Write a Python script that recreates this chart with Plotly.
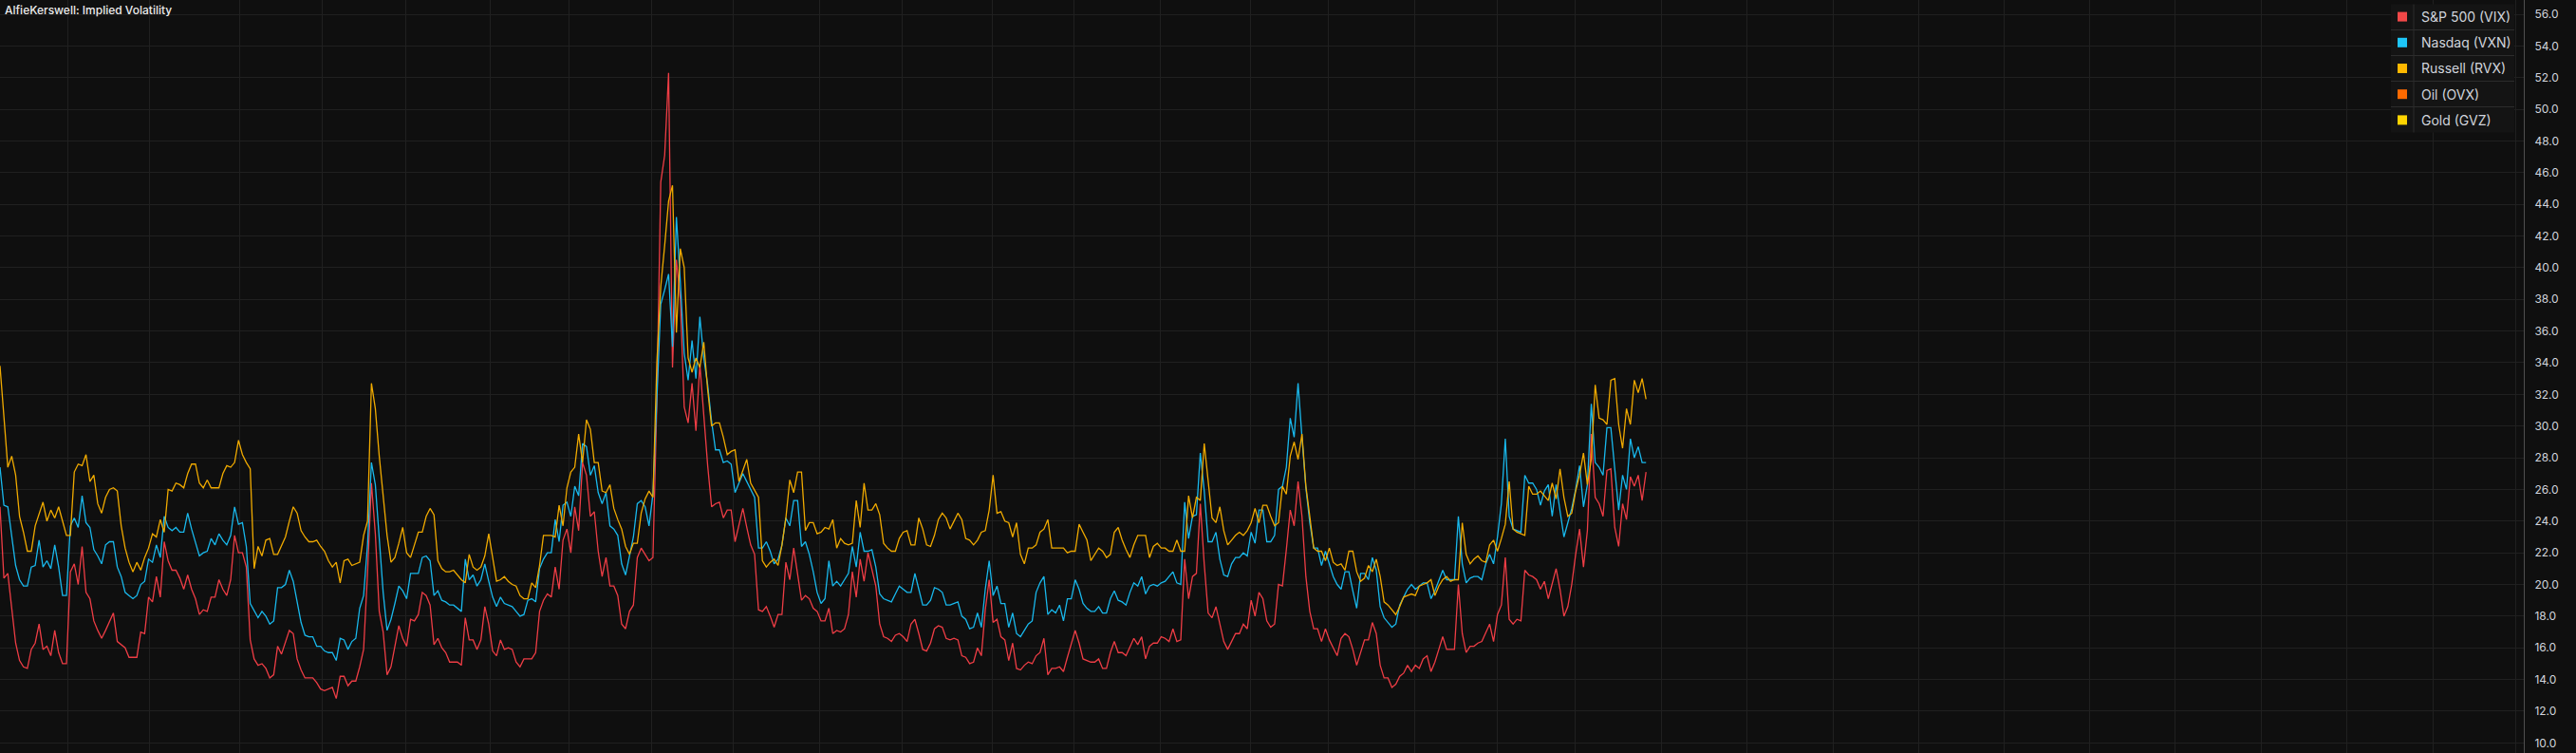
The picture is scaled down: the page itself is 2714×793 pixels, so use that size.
import plotly.graph_objects as go

# ---------------- data (daily closes) ----------------
vix = [
    24.9, 20.4, 20.7, 18.4, 16.3, 15.2, 14.8, 14.7, 15.9, 16.3,
    17.5, 15.9, 16.1, 15.5, 17.1, 15.7, 15.0, 15.0, 20.8, 21.3,
    20.0, 22.4, 19.5, 19.1, 17.7, 17.1, 16.6, 17.1, 17.7, 18.2,
    16.4, 16.2, 16.0, 15.4, 15.4, 15.4, 17.0, 16.9, 19.2, 18.9,
    20.5, 19.2, 22.7, 21.5, 20.9, 20.9, 20.4, 19.7, 20.6, 19.7,
    19.1, 18.1, 18.4, 18.3, 19.2, 19.2, 20.3, 19.7, 19.3, 20.3,
    23.1, 22.0, 22.0, 21.1, 16.5, 15.3, 14.9, 15.0, 14.7, 14.1,
    14.3, 16.1, 15.6, 16.4, 17.1, 16.9, 15.3, 14.6, 14.1, 14.1,
    14.1, 13.8, 13.4, 13.3, 13.4, 13.5, 12.8, 14.2, 14.2, 13.6,
    13.9, 13.9, 14.8, 15.9, 20.7, 26.4, 23.2, 18.3, 17.0, 14.3,
    14.8, 16.1, 17.4, 16.6, 16.1, 17.8, 17.7, 18.1, 19.5, 19.3,
    18.7, 16.2, 16.6, 16.0, 15.7, 15.1, 15.1, 15.1, 14.9, 17.9,
    16.5, 16.5, 15.9, 16.5, 18.6, 17.5, 15.8, 15.5, 16.5, 15.9,
    16.0, 15.9, 15.1, 14.8, 15.3, 15.3, 15.3, 15.7, 18.3, 19.0,
    19.4, 19.2, 21.1, 19.7, 22.8, 23.5, 22.0, 24.9, 23.4, 27.7,
    26.9, 24.3, 24.6, 22.1, 20.5, 21.7, 19.9, 19.9, 19.3, 17.5,
    17.2, 18.3, 18.7, 21.7, 22.3, 21.9, 21.5, 21.7, 31.5, 45.4,
    47.1, 52.3, 33.7, 40.5, 38.0, 31.2, 30.2, 32.7, 29.7, 33.9,
    30.6, 27.5, 24.9, 25.1, 25.2, 24.2, 24.7, 24.7, 22.7, 23.7,
    24.8, 23.6, 22.5, 21.9, 18.4, 18.3, 18.6, 18.0, 17.3, 18.1,
    18.1, 21.4, 20.3, 22.3, 20.7, 19.0, 19.3, 19.1, 18.5, 18.3,
    17.7, 17.7, 18.5, 16.9, 17.1, 17.0, 17.2, 18.1, 20.8, 19.2,
    21.6, 20.2, 22.0, 20.9, 19.9, 17.5, 16.7, 16.6, 16.4, 16.8,
    16.9, 16.7, 16.4, 17.5, 17.8, 16.9, 15.9, 15.8, 16.3, 17.2,
    17.4, 17.3, 16.6, 16.5, 16.6, 16.5, 15.5, 15.4, 15.0, 15.1,
    16.0, 15.5, 18.4, 20.3, 17.6, 17.8, 16.7, 16.5, 15.2, 16.3,
    14.7, 14.6, 14.9, 15.1, 15.0, 15.5, 15.7, 16.6, 14.3, 14.7,
    14.7, 14.8, 14.5, 15.4, 16.3, 17.1, 16.3, 15.3, 15.2, 15.1,
    15.1, 15.3, 14.7, 14.7, 15.7, 16.4, 15.7, 15.7, 15.5, 16.1,
    16.6, 16.2, 16.7, 15.3, 16.1, 16.3, 16.3, 16.7, 16.6, 16.4,
    17.2, 16.4, 16.5, 21.6, 19.1, 20.5, 20.7, 25.1, 21.3, 18.2,
    17.9, 18.6, 17.5, 16.4, 15.9, 16.4, 16.9, 16.9, 17.5, 17.2,
    19.0, 18.0, 19.5, 19.1, 17.7, 17.3, 17.5, 20.0, 19.9, 22.2,
    24.7, 23.7, 26.5, 24.3, 20.5, 18.3, 17.2, 17.2, 16.4, 17.2,
    16.5, 16.0, 15.5, 16.6, 16.9, 16.7, 15.9, 14.9, 15.7, 16.5,
    16.5, 17.6, 16.9, 14.9, 14.1, 14.1, 13.5, 13.7, 14.2, 14.4,
    14.9, 14.5, 14.9, 14.7, 15.3, 15.5, 14.5, 15.1, 15.9, 16.7,
    15.9, 15.9, 15.9, 20.0, 16.9, 15.7, 16.1, 16.1, 16.3, 16.4,
    16.9, 17.5, 16.4, 18.1, 18.7, 21.7, 17.8, 17.5, 17.8, 17.7,
    20.9, 20.6, 20.5, 20.3, 19.7, 20.2, 19.1, 20.1, 21.0, 19.7,
    18.0, 18.6, 20.0, 21.9, 23.5, 21.1, 23.4, 29.5, 25.5, 25.1,
    24.3, 27.2, 27.3, 23.6, 22.4, 25.1, 24.1, 26.8, 26.2, 26.9,
    25.3, 27.1,
]

vxn = [
    27.4, 25.0, 24.9, 23.2, 21.2, 20.3, 19.9, 19.9, 21.1, 21.2,
    22.8, 21.1, 21.5, 21.0, 22.5, 21.1, 19.3, 19.3, 23.7, 24.2,
    23.6, 25.6, 23.9, 23.6, 22.2, 21.8, 21.3, 22.5, 22.7, 22.7,
    21.1, 20.5, 19.5, 19.3, 19.1, 19.3, 20.0, 20.2, 21.6, 21.4,
    22.5, 21.7, 24.3, 23.6, 23.4, 23.6, 23.3, 23.3, 24.5, 23.5,
    22.7, 21.8, 22.0, 22.1, 22.9, 22.5, 23.2, 22.8, 22.5, 23.1,
    24.9, 23.8, 23.9, 22.4, 18.8, 18.3, 17.9, 18.3, 18.0, 17.5,
    17.7, 19.8, 19.8, 20.0, 20.9, 20.2, 18.8, 17.6, 16.8, 16.7,
    16.7, 16.1, 16.1, 15.8, 15.7, 15.7, 15.2, 16.6, 16.5, 15.9,
    16.4, 16.6, 18.5, 19.3, 22.5, 27.7, 26.3, 23.0, 19.5, 17.1,
    17.8, 18.8, 19.9, 19.6, 19.1, 20.7, 20.7, 20.7, 21.7, 21.8,
    21.5, 19.3, 19.6, 19.0, 18.9, 18.7, 18.7, 18.5, 18.3, 21.6,
    20.3, 20.6, 19.9, 20.3, 21.3, 20.2, 19.2, 18.6, 19.2, 18.8,
    18.7, 18.6, 18.3, 18.0, 18.1, 19.0, 19.1, 18.9, 21.0, 21.6,
    22.0, 22.0, 24.1, 22.7, 25.0, 25.2, 24.3, 26.2, 25.6, 28.9,
    28.7, 26.9, 27.5, 25.8, 25.1, 25.8, 23.7, 23.5, 23.1, 21.3,
    20.6, 21.9, 23.0, 25.1, 25.3, 24.9, 23.7, 25.7, 31.2, 37.7,
    38.6, 39.6, 35.0, 43.2, 39.1, 34.6, 32.9, 35.4, 33.0, 36.9,
    34.3, 32.6, 30.3, 28.5, 28.5, 27.7, 27.8, 27.6, 25.8, 26.4,
    27.0, 26.5, 26.0, 25.5, 22.3, 22.3, 22.7, 22.1, 21.3, 21.6,
    22.5, 24.2, 23.7, 25.3, 25.3, 22.4, 22.7, 21.9, 20.8, 19.5,
    18.8, 19.1, 21.5, 19.9, 20.2, 19.9, 20.3, 20.7, 22.4, 21.1,
    23.3, 22.1, 22.1, 22.2, 21.1, 19.4, 19.1, 19.0, 18.9, 19.4,
    19.9, 19.7, 19.5, 19.5, 20.7, 19.7, 18.7, 18.7, 19.0, 19.8,
    19.7, 19.5, 18.7, 18.7, 18.8, 18.9, 18.0, 17.8, 17.2, 17.3,
    18.2, 17.3, 19.7, 21.5, 19.3, 19.9, 18.8, 18.8, 17.3, 18.2,
    16.9, 16.7, 17.1, 17.5, 17.7, 19.5, 20.1, 20.5, 18.1, 18.4,
    18.2, 18.7, 17.7, 19.1, 19.1, 20.3, 19.7, 18.8, 18.5, 18.3,
    18.3, 18.6, 18.2, 18.2, 19.1, 19.6, 19.0, 18.9, 18.7, 19.5,
    20.1, 19.9, 20.5, 19.4, 19.9, 20.0, 19.9, 20.1, 20.2, 20.5,
    20.8, 20.1, 20.0, 25.2, 22.9, 24.3, 24.4, 28.3, 25.9, 22.7,
    22.7, 23.3, 21.6, 20.6, 20.5, 21.3, 21.7, 21.7, 22.0, 21.8,
    23.3, 22.6, 24.7, 24.7, 22.7, 22.7, 23.1, 26.0, 26.2, 27.4,
    30.5, 29.3, 32.7, 29.3, 26.1, 23.9, 22.3, 22.3, 21.2, 22.1,
    21.3, 20.5, 20.0, 19.7, 20.8, 20.8, 19.6, 18.5, 20.7, 20.7,
    20.3, 21.7, 20.9, 18.6, 17.9, 17.6, 17.3, 17.5, 18.7, 19.2,
    19.7, 20.0, 19.7, 19.9, 20.1, 20.1, 19.1, 19.6, 20.3, 20.9,
    20.3, 20.3, 20.3, 24.3, 21.3, 20.1, 20.4, 20.5, 20.5, 20.3,
    21.3, 21.9, 21.3, 23.0, 25.1, 29.2, 24.3, 23.5, 23.4, 23.3,
    26.9, 26.4, 26.4, 26.0, 25.0, 25.9, 26.3, 24.3, 26.3, 24.5,
    23.0, 23.9, 24.8, 26.0, 27.5, 24.9, 26.3, 31.4, 27.7, 27.4,
    26.9, 29.9, 29.9, 27.3, 24.7, 26.9, 26.0, 29.2, 28.0, 28.7,
    27.7, 27.7,
]

rvx = [
    33.8, 30.6, 27.4, 28.1, 26.9, 24.3, 23.3, 22.1, 22.1, 23.7,
    24.5, 25.2, 24.0, 24.7, 24.2, 24.9, 24.0, 23.1, 23.1, 27.1,
    27.6, 27.5, 28.2, 26.5, 26.9, 25.1, 24.5, 25.5, 26.0, 26.1,
    25.9, 23.7, 22.3, 21.4, 20.8, 21.4, 20.9, 21.7, 22.3, 23.2,
    23.0, 24.1, 23.3, 26.0, 25.9, 26.4, 26.3, 26.1, 27.0, 27.6,
    27.6, 26.4, 26.1, 26.6, 26.1, 26.1, 26.1, 27.0, 27.5, 27.4,
    27.7, 29.1, 28.2, 27.7, 27.3, 21.0, 22.4, 21.8, 22.8, 22.9,
    21.9, 21.9, 22.4, 23.0, 24.0, 24.9, 24.5, 23.4, 23.0, 22.7,
    22.7, 22.8, 22.4, 22.1, 21.5, 21.1, 21.4, 20.1, 21.5, 21.6,
    21.2, 21.3, 21.4, 23.1, 24.0, 32.7, 31.1, 28.1, 25.5, 23.1,
    21.4, 21.7, 22.6, 23.6, 22.0, 21.7, 22.5, 23.3, 23.3, 24.3,
    24.8, 24.4, 21.5, 21.0, 20.8, 20.8, 20.9, 20.6, 20.3, 20.1,
    21.9, 21.1, 20.9, 21.1, 21.8, 23.2, 21.6, 20.2, 20.3, 20.5,
    20.2, 20.0, 19.9, 19.3, 19.1, 19.1, 20.1, 19.8, 21.2, 23.1,
    23.1, 23.1, 23.0, 25.0, 23.7, 26.1, 27.1, 27.4, 29.5, 27.7,
    30.4, 29.8, 27.7, 27.7, 25.9, 25.8, 26.3, 24.8, 24.1, 23.5,
    22.4, 21.9, 22.6, 22.6, 24.5, 25.4, 25.9, 25.5, 34.0, 38.8,
    41.4, 44.2, 45.2, 35.9, 41.2, 40.0, 34.3, 33.4, 34.3, 33.7,
    35.3, 32.3, 30.0, 30.2, 30.2, 29.3, 28.2, 28.4, 28.5, 26.5,
    27.2, 27.9, 26.4, 25.9, 25.5, 21.5, 21.1, 21.4, 21.6, 21.2,
    22.5, 24.2, 26.6, 25.8, 27.1, 27.1, 23.4, 23.9, 23.9, 23.2,
    23.3, 23.6, 23.5, 24.1, 22.3, 22.9, 22.6, 22.5, 22.6, 25.3,
    23.6, 26.4, 24.7, 24.7, 25.1, 24.4, 22.6, 22.3, 22.1, 22.1,
    22.9, 23.3, 23.4, 22.5, 22.5, 24.2, 23.5, 22.5, 22.4, 23.1,
    24.1, 24.5, 24.2, 23.5, 24.0, 24.5, 24.1, 22.9, 22.8, 22.5,
    22.8, 23.3, 23.4, 24.7, 26.9, 24.5, 24.6, 24.0, 23.9, 23.0,
    23.9, 21.9, 21.3, 22.3, 22.3, 22.5, 23.3, 23.5, 24.1, 22.3,
    22.3, 22.3, 22.3, 22.0, 22.1, 22.1, 23.8, 23.3, 22.8, 21.5,
    21.9, 22.3, 22.1, 21.7, 21.9, 23.3, 23.6, 22.8, 22.2, 21.7,
    22.5, 23.1, 23.1, 23.1, 21.7, 22.4, 22.6, 22.3, 22.3, 22.1,
    22.1, 22.8, 22.1, 22.1, 25.6, 24.2, 25.5, 25.3, 28.9, 26.5,
    24.2, 23.9, 24.9, 23.4, 22.5, 22.8, 23.1, 23.3, 23.1, 23.4,
    23.9, 24.8, 23.9, 25.0, 25.0, 24.3, 23.7, 23.9, 26.2, 25.7,
    28.1, 29.0, 27.9, 29.5, 26.2, 24.3, 22.3, 22.1, 22.1, 21.5,
    22.3, 21.4, 21.2, 21.3, 20.9, 22.1, 22.1, 20.8, 20.2, 20.4,
    21.2, 20.8, 21.6, 20.5, 18.9, 18.7, 18.4, 18.1, 18.6, 19.2,
    19.3, 19.4, 19.3, 19.9, 20.0, 20.1, 20.3, 19.3, 19.9, 20.3,
    20.5, 20.2, 20.3, 20.3, 23.9, 21.9, 21.3, 21.6, 21.8, 21.5,
    21.4, 22.5, 22.8, 22.1, 22.9, 23.8, 26.5, 23.5, 23.3, 23.2,
    23.1, 26.2, 25.7, 25.7, 25.9, 25.6, 25.3, 26.4, 25.4, 27.3,
    25.5, 24.3, 24.5, 25.9, 26.9, 28.3, 26.3, 27.9, 32.6, 30.5,
    30.4, 30.1, 32.9, 33.0, 30.1, 28.6, 31.1, 30.1, 32.9, 32.1,
    33.0, 31.7,
]

ovx = []   # listed in the legend, no visible data
gvz = []   # listed in the legend, no visible data

series_names = ["S&P 500 (VIX)", "Nasdaq (VXN)", "Russell (RVX)", "Oil (OVX)", "Gold (GVZ)"]
series_values = [vix, vxn, rvx, ovx, gvz]
line_colors = ["#ee3d45", "#19b8ec", "#f0aa00", "#ff6a00", "#ffd400"]
legend_colors = ["#f24848", "#1ec6f8", "#ffb800", "#ff6a00", "#ffd400"]

# month boundaries on the bar axis (vertical grid), including future months
month_starts = [17.4, 38.2, 61.2, 82.4, 103.7, 125.4, 145.5, 166.7, 187.6, 209.6,
                230.8, 253.8, 274.7, 296.8, 319.8, 339.8, 361.8, 382.9, 402.9, 425.0,
                446.9, 468.8, 490.7, 512.6, 534.5, 556.4, 578.3, 600.2, 622.2, 643.4]

title_text = "AlfieKerswell: Implied Volatility"

# ---------------- layout constants ----------------
W, H = 2714, 793
PLOT_W = 2659          # plot area width (price scale to the right)
BG = "#0f0f0f"
GRID = "#202020"
X_RANGE = [0, 645.5]
Y_RANGE = [9.36, 56.90]


def px(x):
    return x / PLOT_W


def py(y):
    return 1 - y / H


fig = go.Figure()

for name, vals, col in zip(series_names, series_values, line_colors):
    if not vals:
        continue
    fig.add_trace(go.Scatter(
        x=list(range(len(vals))), y=vals, mode="lines", name=name,
        line=dict(color=col, width=1.3), showlegend=False, hoverinfo="skip",
    ))

for i, (name, col) in enumerate(zip(series_names, legend_colors)):
    fig.add_trace(go.Scatter(
        x=[None], y=[None], mode="markers", name=name, legendgroup=f"g{i}",
        marker=dict(symbol="square", size=10, color=col, line=dict(width=0)),
        showlegend=True, hoverinfo="skip",
    ))

# legend panel: background, row separators and the swatch divider
shapes = [dict(type="rect", xref="paper", yref="paper",
               x0=px(2519), x1=px(2649), y0=py(139.5), y1=py(4.5),
               fillcolor="#141414", line=dict(width=0), layer="above")]
for yy in [31.5, 58.5, 85.5, 112.5]:
    shapes.append(dict(type="line", xref="paper", yref="paper",
                       x0=px(2519), x1=px(2649), y0=py(yy), y1=py(yy),
                       line=dict(color="#2c2c2c", width=1), layer="above"))
shapes.append(dict(type="line", xref="paper", yref="paper",
                   x0=px(2543), x1=px(2543), y0=py(139.5), y1=py(4.5),
                   line=dict(color="#2c2c2c", width=1), layer="above"))

fig.update_layout(
    width=W, height=H,
    margin=dict(l=0, r=W - PLOT_W, t=0, b=0),
    paper_bgcolor=BG, plot_bgcolor=BG,
    font=dict(family="Inter, Roboto, sans-serif", color="#d1d4dc"),
    showlegend=True,
    legend=dict(
        x=px(2511), y=py(2), xanchor="left", yanchor="top",
        bgcolor="rgba(0,0,0,0)", borderwidth=0,
        font=dict(family="Inter", size=14, color="#d1d4dc"),
        tracegroupgap=6, itemsizing="trace",
    ),
    xaxis=dict(
        range=X_RANGE, tickmode="array", tickvals=month_starts,
        showticklabels=False, ticks="", showgrid=True, gridcolor=GRID, gridwidth=1,
        zeroline=False, showline=False, fixedrange=True,
    ),
    yaxis=dict(
        side="right", range=Y_RANGE, tickmode="linear", tick0=0, dtick=2,
        tickformat=".1f", showgrid=True, gridcolor=GRID, gridwidth=1,
        zeroline=False, showline=True, linecolor="#4f4f4f", linewidth=1,
        ticks="", ticklabelstandoff=8, automargin=False,
        tickfont=dict(family="Inter", size=12, color="#d1d4dc"),
    ),
    shapes=shapes,
    annotations=[dict(
        text=title_text, xref="paper", yref="paper", x=px(3), y=1,
        xanchor="left", yanchor="top", yshift=-1, showarrow=False,
        font=dict(family="Inter", size=12, color="#ececec", weight=500),
    )],
)

page_fix = (
    "document.documentElement.style.margin='0';"
    "document.documentElement.style.background='#0f0f0f';"
    "document.body.style.margin='0';"
    "document.body.style.padding='0';"
    "document.body.style.overflow='hidden';"
    "document.body.style.background='#0f0f0f';"
)

fig.write_html("out.html", config={"displayModeBar": False}, post_script=page_fix)
